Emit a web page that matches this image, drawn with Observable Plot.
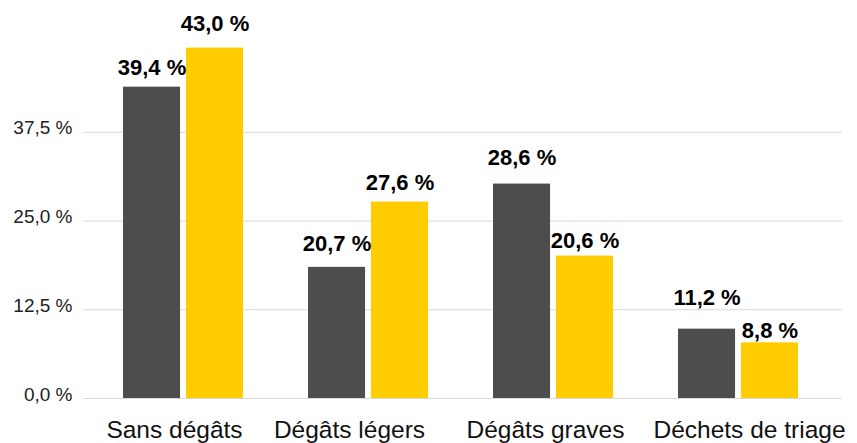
<!DOCTYPE html>
<html>
<head>
<meta charset="utf-8">
<script src="https://cdn.jsdelivr.net/npm/d3@7"></script>
<script src="https://cdn.jsdelivr.net/npm/@observablehq/plot@0.6"></script>
<style>
  html, body { margin: 0; padding: 0; background: #fff; }
  #chart svg { display: block; }
</style>
</head>
<body>
<div id="chart"></div>
<script>
const categories = ["Sans dégâts", "Dégâts légers", "Dégâts graves", "Déchets de triage"];
// bar heights as drawn in the picture (axis units, %)
const seriesDark = [43.85, 18.47, 30.2, 9.77];
const seriesYellow = [49.35, 27.67, 20.06, 7.84];
// value labels as printed
const labelsDark = ["39,4 %", "20,7 %", "28,6 %", "11,2 %"];
const labelsYellow = ["43,0 %", "27,6 %", "20,6 %", "8,8 %"];
const yTicks = [0, 12.5, 25, 37.5];

const dark = categories.map((c, i) => ({cat: c, v: seriesDark[i], label: labelsDark[i]}));
const yellow = categories.map((c, i) => ({cat: c, v: seriesYellow[i], label: labelsYellow[i]}));

const W = 857, H = 443;
const pInner = 0.349;
const step = (800 - 122) / (4 - pInner);
const bw = step * (1 - pInner), gap = 5;
const half = (bw - gap) / 2;
const fmt = d => d.toFixed(1).replace(".", ",") + " %";
const font = "'Liberation Sans', Arial, sans-serif";
// layout nudges as seen in the reference
const nudge = [-9, -19, -8, 11];
const liftDark = [19, 23, 26.5, 31];
const liftYellow = [24, 18.7, 15, 11.7];

const labelMarks = (rows, lifts, dx) => rows.map((r, i) =>
  Plot.text([r], {x: "cat", y: "v", text: "label", dx, dy: -lifts[i],
    fontSize: 22, fontWeight: "bold", fill: "#000"}));

const chart = Plot.plot({
  width: W,
  height: H,
  marginLeft: 83,
  marginRight: 15,
  marginTop: 43,
  marginBottom: 45,
  style: {fontFamily: font, background: "#fff"},
  x: {domain: categories, paddingInner: pInner, paddingOuter: 0, range: [122, 800], label: null},
  y: {domain: [0, 50], label: null},
  marks: [
    Plot.ruleY(yTicks, {stroke: "#d9d9d9", strokeWidth: 1}),
    Plot.barY(dark, {x: "cat", y: "v", fill: "#4d4d4d", insetRight: half + gap}),
    Plot.barY(yellow, {x: "cat", y: "v", fill: "#ffcc00", insetLeft: half + gap}),
    ...labelMarks(dark, liftDark, -(half + gap) / 2),
    ...labelMarks(yellow, liftYellow, (half + gap) / 2),
    Plot.axisY({ticks: yTicks, tickFormat: fmt, tickSize: 0, tickPadding: 11, fontSize: 19, fill: "#222", dy: -4, label: null}),
    ...categories.map((c, i) => Plot.axisX([c], {tickSize: 0, tickPadding: 22, fontSize: 24.5, fill: "#111", dx: nudge[i], label: null}))
  ]
});
document.getElementById("chart").appendChild(chart);
</script>
</body>
</html>
